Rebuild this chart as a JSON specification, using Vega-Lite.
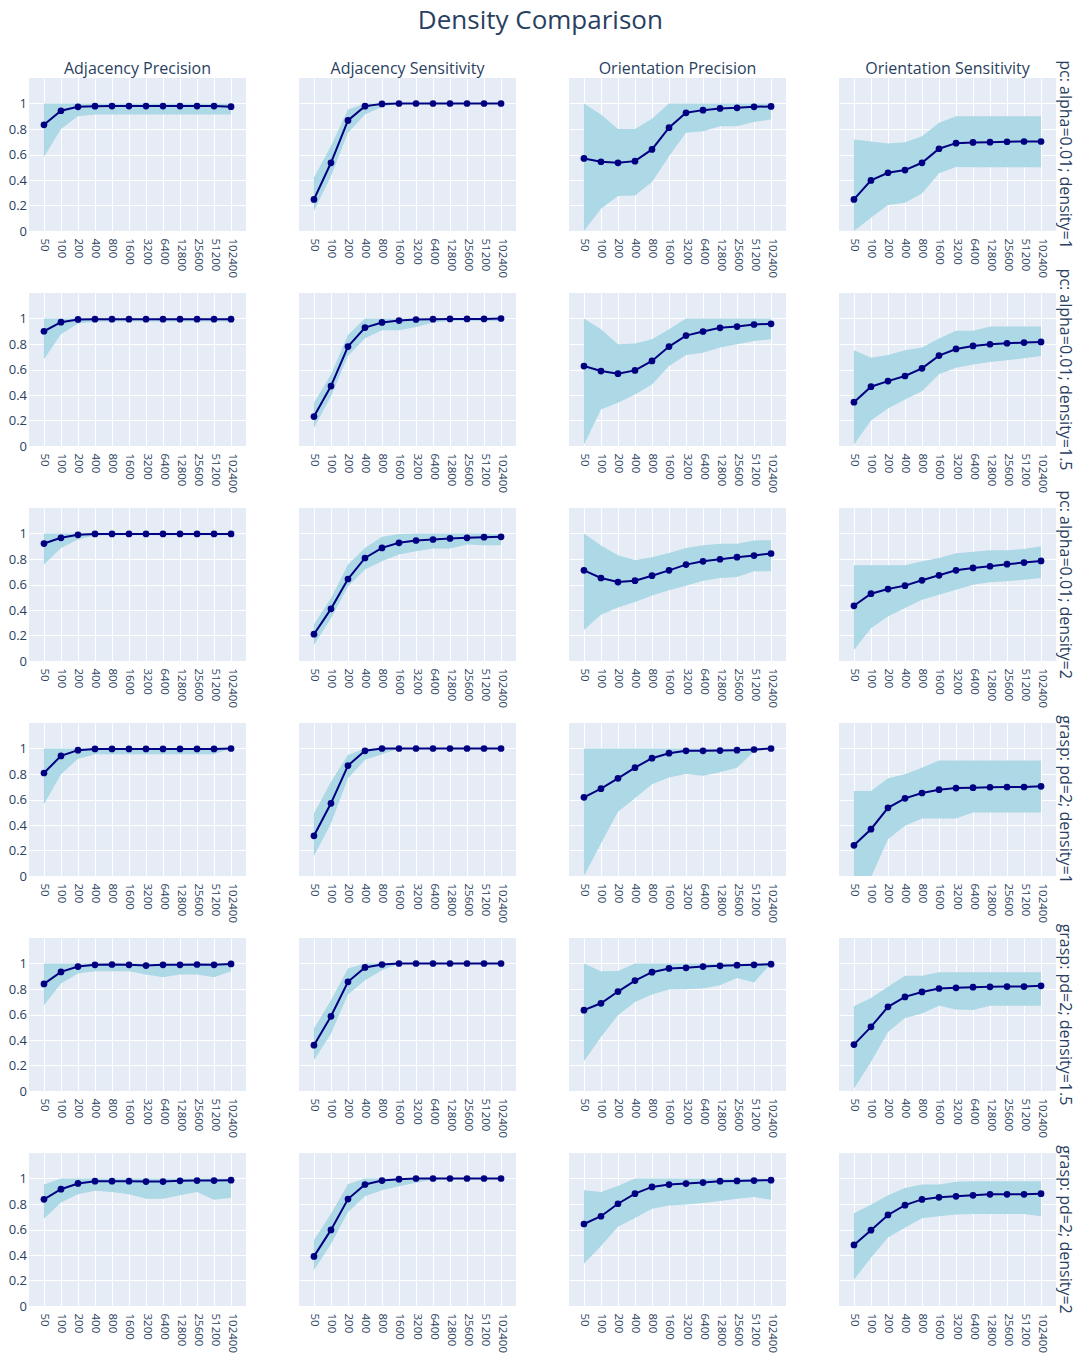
{
"$schema": "https://vega.github.io/schema/vega-lite/v6.json",
"title": {"text": "Density Comparison", "fontSize": 26, "font": "Open Sans", "fontWeight": "normal", "color": "#2a3f5f", "anchor": "middle", "offset": 26},
"background": "white",
"padding": {"left": 8, "top": 8, "right": 2, "bottom": 2},
"datasets": {
"d": [
{"row":"pc: alpha=0.01; density=1","metric":"Adjacency Precision","n":"50","mean":0.833,"lo":0.58,"hi":1},
{"row":"pc: alpha=0.01; density=1","metric":"Adjacency Precision","n":"100","mean":0.943,"lo":0.80,"hi":1},
{"row":"pc: alpha=0.01; density=1","metric":"Adjacency Precision","n":"200","mean":0.974,"lo":0.90,"hi":1},
{"row":"pc: alpha=0.01; density=1","metric":"Adjacency Precision","n":"400","mean":0.979,"lo":0.914,"hi":1},
{"row":"pc: alpha=0.01; density=1","metric":"Adjacency Precision","n":"800","mean":0.98,"lo":0.914,"hi":1},
{"row":"pc: alpha=0.01; density=1","metric":"Adjacency Precision","n":"1600","mean":0.98,"lo":0.914,"hi":1},
{"row":"pc: alpha=0.01; density=1","metric":"Adjacency Precision","n":"3200","mean":0.98,"lo":0.914,"hi":1},
{"row":"pc: alpha=0.01; density=1","metric":"Adjacency Precision","n":"6400","mean":0.98,"lo":0.914,"hi":1},
{"row":"pc: alpha=0.01; density=1","metric":"Adjacency Precision","n":"12800","mean":0.98,"lo":0.914,"hi":1},
{"row":"pc: alpha=0.01; density=1","metric":"Adjacency Precision","n":"25600","mean":0.98,"lo":0.914,"hi":1},
{"row":"pc: alpha=0.01; density=1","metric":"Adjacency Precision","n":"51200","mean":0.98,"lo":0.914,"hi":1},
{"row":"pc: alpha=0.01; density=1","metric":"Adjacency Precision","n":"102400","mean":0.975,"lo":0.914,"hi":1},
{"row":"pc: alpha=0.01; density=1","metric":"Adjacency Sensitivity","n":"50","mean":0.248,"lo":0.157,"hi":0.42},
{"row":"pc: alpha=0.01; density=1","metric":"Adjacency Sensitivity","n":"100","mean":0.535,"lo":0.43,"hi":0.666},
{"row":"pc: alpha=0.01; density=1","metric":"Adjacency Sensitivity","n":"200","mean":0.867,"lo":0.77,"hi":0.953},
{"row":"pc: alpha=0.01; density=1","metric":"Adjacency Sensitivity","n":"400","mean":0.979,"lo":0.914,"hi":1},
{"row":"pc: alpha=0.01; density=1","metric":"Adjacency Sensitivity","n":"800","mean":0.997,"lo":0.974,"hi":1},
{"row":"pc: alpha=0.01; density=1","metric":"Adjacency Sensitivity","n":"1600","mean":1,"lo":1,"hi":1},
{"row":"pc: alpha=0.01; density=1","metric":"Adjacency Sensitivity","n":"3200","mean":1,"lo":1,"hi":1},
{"row":"pc: alpha=0.01; density=1","metric":"Adjacency Sensitivity","n":"6400","mean":1,"lo":1,"hi":1},
{"row":"pc: alpha=0.01; density=1","metric":"Adjacency Sensitivity","n":"12800","mean":1,"lo":1,"hi":1},
{"row":"pc: alpha=0.01; density=1","metric":"Adjacency Sensitivity","n":"25600","mean":1,"lo":1,"hi":1},
{"row":"pc: alpha=0.01; density=1","metric":"Adjacency Sensitivity","n":"51200","mean":1,"lo":1,"hi":1},
{"row":"pc: alpha=0.01; density=1","metric":"Adjacency Sensitivity","n":"102400","mean":1,"lo":1,"hi":1},
{"row":"pc: alpha=0.01; density=1","metric":"Orientation Precision","n":"50","mean":0.569,"lo":0,"hi":1},
{"row":"pc: alpha=0.01; density=1","metric":"Orientation Precision","n":"100","mean":0.543,"lo":0.175,"hi":0.914},
{"row":"pc: alpha=0.01; density=1","metric":"Orientation Precision","n":"200","mean":0.535,"lo":0.274,"hi":0.80},
{"row":"pc: alpha=0.01; density=1","metric":"Orientation Precision","n":"400","mean":0.548,"lo":0.279,"hi":0.80},
{"row":"pc: alpha=0.01; density=1","metric":"Orientation Precision","n":"800","mean":0.64,"lo":0.384,"hi":0.88},
{"row":"pc: alpha=0.01; density=1","metric":"Orientation Precision","n":"1600","mean":0.81,"lo":0.587,"hi":1},
{"row":"pc: alpha=0.01; density=1","metric":"Orientation Precision","n":"3200","mean":0.927,"lo":0.77,"hi":1},
{"row":"pc: alpha=0.01; density=1","metric":"Orientation Precision","n":"6400","mean":0.948,"lo":0.783,"hi":1},
{"row":"pc: alpha=0.01; density=1","metric":"Orientation Precision","n":"12800","mean":0.961,"lo":0.822,"hi":1},
{"row":"pc: alpha=0.01; density=1","metric":"Orientation Precision","n":"25600","mean":0.966,"lo":0.822,"hi":1},
{"row":"pc: alpha=0.01; density=1","metric":"Orientation Precision","n":"51200","mean":0.974,"lo":0.854,"hi":1},
{"row":"pc: alpha=0.01; density=1","metric":"Orientation Precision","n":"102400","mean":0.977,"lo":0.875,"hi":1},
{"row":"pc: alpha=0.01; density=1","metric":"Orientation Sensitivity","n":"50","mean":0.248,"lo":0,"hi":0.718},
{"row":"pc: alpha=0.01; density=1","metric":"Orientation Sensitivity","n":"100","mean":0.397,"lo":0.104,"hi":0.702},
{"row":"pc: alpha=0.01; density=1","metric":"Orientation Sensitivity","n":"200","mean":0.457,"lo":0.204,"hi":0.687},
{"row":"pc: alpha=0.01; density=1","metric":"Orientation Sensitivity","n":"400","mean":0.478,"lo":0.222,"hi":0.697},
{"row":"pc: alpha=0.01; density=1","metric":"Orientation Sensitivity","n":"800","mean":0.535,"lo":0.295,"hi":0.744},
{"row":"pc: alpha=0.01; density=1","metric":"Orientation Sensitivity","n":"1600","mean":0.645,"lo":0.452,"hi":0.849},
{"row":"pc: alpha=0.01; density=1","metric":"Orientation Sensitivity","n":"3200","mean":0.689,"lo":0.501,"hi":0.90},
{"row":"pc: alpha=0.01; density=1","metric":"Orientation Sensitivity","n":"6400","mean":0.695,"lo":0.50,"hi":0.90},
{"row":"pc: alpha=0.01; density=1","metric":"Orientation Sensitivity","n":"12800","mean":0.697,"lo":0.50,"hi":0.90},
{"row":"pc: alpha=0.01; density=1","metric":"Orientation Sensitivity","n":"25600","mean":0.70,"lo":0.50,"hi":0.90},
{"row":"pc: alpha=0.01; density=1","metric":"Orientation Sensitivity","n":"51200","mean":0.702,"lo":0.50,"hi":0.90},
{"row":"pc: alpha=0.01; density=1","metric":"Orientation Sensitivity","n":"102400","mean":0.702,"lo":0.50,"hi":0.90},

{"row":"pc: alpha=0.01; density=1.5","metric":"Adjacency Precision","n":"50","mean":0.90,"lo":0.68,"hi":1},
{"row":"pc: alpha=0.01; density=1.5","metric":"Adjacency Precision","n":"100","mean":0.971,"lo":0.877,"hi":1},
{"row":"pc: alpha=0.01; density=1.5","metric":"Adjacency Precision","n":"200","mean":0.993,"lo":0.96,"hi":1},
{"row":"pc: alpha=0.01; density=1.5","metric":"Adjacency Precision","n":"400","mean":0.995,"lo":0.974,"hi":1},
{"row":"pc: alpha=0.01; density=1.5","metric":"Adjacency Precision","n":"800","mean":0.995,"lo":0.976,"hi":1},
{"row":"pc: alpha=0.01; density=1.5","metric":"Adjacency Precision","n":"1600","mean":0.995,"lo":0.976,"hi":1},
{"row":"pc: alpha=0.01; density=1.5","metric":"Adjacency Precision","n":"3200","mean":0.995,"lo":0.976,"hi":1},
{"row":"pc: alpha=0.01; density=1.5","metric":"Adjacency Precision","n":"6400","mean":0.995,"lo":0.976,"hi":1},
{"row":"pc: alpha=0.01; density=1.5","metric":"Adjacency Precision","n":"12800","mean":0.995,"lo":0.976,"hi":1},
{"row":"pc: alpha=0.01; density=1.5","metric":"Adjacency Precision","n":"25600","mean":0.995,"lo":0.976,"hi":1},
{"row":"pc: alpha=0.01; density=1.5","metric":"Adjacency Precision","n":"51200","mean":0.995,"lo":0.976,"hi":1},
{"row":"pc: alpha=0.01; density=1.5","metric":"Adjacency Precision","n":"102400","mean":0.995,"lo":0.976,"hi":1},
{"row":"pc: alpha=0.01; density=1.5","metric":"Adjacency Sensitivity","n":"50","mean":0.231,"lo":0.142,"hi":0.339},
{"row":"pc: alpha=0.01; density=1.5","metric":"Adjacency Sensitivity","n":"100","mean":0.47,"lo":0.39,"hi":0.56},
{"row":"pc: alpha=0.01; density=1.5","metric":"Adjacency Sensitivity","n":"200","mean":0.78,"lo":0.706,"hi":0.87},
{"row":"pc: alpha=0.01; density=1.5","metric":"Adjacency Sensitivity","n":"400","mean":0.929,"lo":0.845,"hi":1},
{"row":"pc: alpha=0.01; density=1.5","metric":"Adjacency Sensitivity","n":"800","mean":0.969,"lo":0.908,"hi":1},
{"row":"pc: alpha=0.01; density=1.5","metric":"Adjacency Sensitivity","n":"1600","mean":0.984,"lo":0.908,"hi":1},
{"row":"pc: alpha=0.01; density=1.5","metric":"Adjacency Sensitivity","n":"3200","mean":0.992,"lo":0.934,"hi":1},
{"row":"pc: alpha=0.01; density=1.5","metric":"Adjacency Sensitivity","n":"6400","mean":0.995,"lo":0.969,"hi":1},
{"row":"pc: alpha=0.01; density=1.5","metric":"Adjacency Sensitivity","n":"12800","mean":0.997,"lo":0.98,"hi":1},
{"row":"pc: alpha=0.01; density=1.5","metric":"Adjacency Sensitivity","n":"25600","mean":0.997,"lo":0.98,"hi":1},
{"row":"pc: alpha=0.01; density=1.5","metric":"Adjacency Sensitivity","n":"51200","mean":0.997,"lo":0.98,"hi":1},
{"row":"pc: alpha=0.01; density=1.5","metric":"Adjacency Sensitivity","n":"102400","mean":1,"lo":0.98,"hi":1},
{"row":"pc: alpha=0.01; density=1.5","metric":"Orientation Precision","n":"50","mean":0.627,"lo":0.01,"hi":1},
{"row":"pc: alpha=0.01; density=1.5","metric":"Orientation Precision","n":"100","mean":0.588,"lo":0.286,"hi":0.916},
{"row":"pc: alpha=0.01; density=1.5","metric":"Orientation Precision","n":"200","mean":0.567,"lo":0.339,"hi":0.798},
{"row":"pc: alpha=0.01; density=1.5","metric":"Orientation Precision","n":"400","mean":0.593,"lo":0.404,"hi":0.803},
{"row":"pc: alpha=0.01; density=1.5","metric":"Orientation Precision","n":"800","mean":0.667,"lo":0.483,"hi":0.837},
{"row":"pc: alpha=0.01; density=1.5","metric":"Orientation Precision","n":"1600","mean":0.78,"lo":0.627,"hi":0.916},
{"row":"pc: alpha=0.01; density=1.5","metric":"Orientation Precision","n":"3200","mean":0.866,"lo":0.714,"hi":1},
{"row":"pc: alpha=0.01; density=1.5","metric":"Orientation Precision","n":"6400","mean":0.898,"lo":0.732,"hi":1},
{"row":"pc: alpha=0.01; density=1.5","metric":"Orientation Precision","n":"12800","mean":0.927,"lo":0.772,"hi":1},
{"row":"pc: alpha=0.01; density=1.5","metric":"Orientation Precision","n":"25600","mean":0.937,"lo":0.798,"hi":1},
{"row":"pc: alpha=0.01; density=1.5","metric":"Orientation Precision","n":"51200","mean":0.953,"lo":0.824,"hi":1},
{"row":"pc: alpha=0.01; density=1.5","metric":"Orientation Precision","n":"102400","mean":0.958,"lo":0.837,"hi":1},
{"row":"pc: alpha=0.01; density=1.5","metric":"Orientation Sensitivity","n":"50","mean":0.344,"lo":0.01,"hi":0.751},
{"row":"pc: alpha=0.01; density=1.5","metric":"Orientation Sensitivity","n":"100","mean":0.465,"lo":0.2,"hi":0.693},
{"row":"pc: alpha=0.01; density=1.5","metric":"Orientation Sensitivity","n":"200","mean":0.509,"lo":0.294,"hi":0.714},
{"row":"pc: alpha=0.01; density=1.5","metric":"Orientation Sensitivity","n":"400","mean":0.549,"lo":0.365,"hi":0.751},
{"row":"pc: alpha=0.01; density=1.5","metric":"Orientation Sensitivity","n":"800","mean":0.609,"lo":0.43,"hi":0.772},
{"row":"pc: alpha=0.01; density=1.5","metric":"Orientation Sensitivity","n":"1600","mean":0.709,"lo":0.562,"hi":0.843},
{"row":"pc: alpha=0.01; density=1.5","metric":"Orientation Sensitivity","n":"3200","mean":0.761,"lo":0.614,"hi":0.903},
{"row":"pc: alpha=0.01; density=1.5","metric":"Orientation Sensitivity","n":"6400","mean":0.785,"lo":0.64,"hi":0.903},
{"row":"pc: alpha=0.01; density=1.5","metric":"Orientation Sensitivity","n":"12800","mean":0.798,"lo":0.659,"hi":0.937},
{"row":"pc: alpha=0.01; density=1.5","metric":"Orientation Sensitivity","n":"25600","mean":0.806,"lo":0.672,"hi":0.937},
{"row":"pc: alpha=0.01; density=1.5","metric":"Orientation Sensitivity","n":"51200","mean":0.811,"lo":0.688,"hi":0.937},
{"row":"pc: alpha=0.01; density=1.5","metric":"Orientation Sensitivity","n":"102400","mean":0.816,"lo":0.706,"hi":0.937},

{"row":"pc: alpha=0.01; density=2","metric":"Adjacency Precision","n":"50","mean":0.921,"lo":0.756,"hi":1},
{"row":"pc: alpha=0.01; density=2","metric":"Adjacency Precision","n":"100","mean":0.966,"lo":0.887,"hi":1},
{"row":"pc: alpha=0.01; density=2","metric":"Adjacency Precision","n":"200","mean":0.99,"lo":0.953,"hi":1},
{"row":"pc: alpha=0.01; density=2","metric":"Adjacency Precision","n":"400","mean":0.997,"lo":0.984,"hi":1},
{"row":"pc: alpha=0.01; density=2","metric":"Adjacency Precision","n":"800","mean":0.997,"lo":0.987,"hi":1},
{"row":"pc: alpha=0.01; density=2","metric":"Adjacency Precision","n":"1600","mean":0.997,"lo":0.987,"hi":1},
{"row":"pc: alpha=0.01; density=2","metric":"Adjacency Precision","n":"3200","mean":0.997,"lo":0.987,"hi":1},
{"row":"pc: alpha=0.01; density=2","metric":"Adjacency Precision","n":"6400","mean":0.997,"lo":0.987,"hi":1},
{"row":"pc: alpha=0.01; density=2","metric":"Adjacency Precision","n":"12800","mean":0.997,"lo":0.987,"hi":1},
{"row":"pc: alpha=0.01; density=2","metric":"Adjacency Precision","n":"25600","mean":0.997,"lo":0.987,"hi":1},
{"row":"pc: alpha=0.01; density=2","metric":"Adjacency Precision","n":"51200","mean":0.997,"lo":0.987,"hi":1},
{"row":"pc: alpha=0.01; density=2","metric":"Adjacency Precision","n":"102400","mean":0.997,"lo":0.987,"hi":1},
{"row":"pc: alpha=0.01; density=2","metric":"Adjacency Sensitivity","n":"50","mean":0.21,"lo":0.126,"hi":0.289},
{"row":"pc: alpha=0.01; density=2","metric":"Adjacency Sensitivity","n":"100","mean":0.409,"lo":0.336,"hi":0.493},
{"row":"pc: alpha=0.01; density=2","metric":"Adjacency Sensitivity","n":"200","mean":0.643,"lo":0.585,"hi":0.756},
{"row":"pc: alpha=0.01; density=2","metric":"Adjacency Sensitivity","n":"400","mean":0.808,"lo":0.717,"hi":0.887},
{"row":"pc: alpha=0.01; density=2","metric":"Adjacency Sensitivity","n":"800","mean":0.887,"lo":0.782,"hi":0.974},
{"row":"pc: alpha=0.01; density=2","metric":"Adjacency Sensitivity","n":"1600","mean":0.927,"lo":0.835,"hi":0.997},
{"row":"pc: alpha=0.01; density=2","metric":"Adjacency Sensitivity","n":"3200","mean":0.945,"lo":0.861,"hi":1},
{"row":"pc: alpha=0.01; density=2","metric":"Adjacency Sensitivity","n":"6400","mean":0.953,"lo":0.882,"hi":1},
{"row":"pc: alpha=0.01; density=2","metric":"Adjacency Sensitivity","n":"12800","mean":0.961,"lo":0.882,"hi":1},
{"row":"pc: alpha=0.01; density=2","metric":"Adjacency Sensitivity","n":"25600","mean":0.966,"lo":0.913,"hi":1},
{"row":"pc: alpha=0.01; density=2","metric":"Adjacency Sensitivity","n":"51200","mean":0.971,"lo":0.908,"hi":1},
{"row":"pc: alpha=0.01; density=2","metric":"Adjacency Sensitivity","n":"102400","mean":0.974,"lo":0.908,"hi":0.995},
{"row":"pc: alpha=0.01; density=2","metric":"Orientation Precision","n":"50","mean":0.711,"lo":0.244,"hi":1},
{"row":"pc: alpha=0.01; density=2","metric":"Orientation Precision","n":"100","mean":0.651,"lo":0.362,"hi":0.906},
{"row":"pc: alpha=0.01; density=2","metric":"Orientation Precision","n":"200","mean":0.619,"lo":0.42,"hi":0.829},
{"row":"pc: alpha=0.01; density=2","metric":"Orientation Precision","n":"400","mean":0.63,"lo":0.462,"hi":0.793},
{"row":"pc: alpha=0.01; density=2","metric":"Orientation Precision","n":"800","mean":0.669,"lo":0.514,"hi":0.814},
{"row":"pc: alpha=0.01; density=2","metric":"Orientation Precision","n":"1600","mean":0.711,"lo":0.554,"hi":0.848},
{"row":"pc: alpha=0.01; density=2","metric":"Orientation Precision","n":"3200","mean":0.756,"lo":0.591,"hi":0.887},
{"row":"pc: alpha=0.01; density=2","metric":"Orientation Precision","n":"6400","mean":0.782,"lo":0.63,"hi":0.908},
{"row":"pc: alpha=0.01; density=2","metric":"Orientation Precision","n":"12800","mean":0.798,"lo":0.651,"hi":0.919},
{"row":"pc: alpha=0.01; density=2","metric":"Orientation Precision","n":"25600","mean":0.814,"lo":0.659,"hi":0.919},
{"row":"pc: alpha=0.01; density=2","metric":"Orientation Precision","n":"51200","mean":0.827,"lo":0.703,"hi":0.945},
{"row":"pc: alpha=0.01; density=2","metric":"Orientation Precision","n":"102400","mean":0.843,"lo":0.703,"hi":0.948},
{"row":"pc: alpha=0.01; density=2","metric":"Orientation Sensitivity","n":"50","mean":0.433,"lo":0.087,"hi":0.751},
{"row":"pc: alpha=0.01; density=2","metric":"Orientation Sensitivity","n":"100","mean":0.528,"lo":0.257,"hi":0.751},
{"row":"pc: alpha=0.01; density=2","metric":"Orientation Sensitivity","n":"200","mean":0.564,"lo":0.349,"hi":0.751},
{"row":"pc: alpha=0.01; density=2","metric":"Orientation Sensitivity","n":"400","mean":0.591,"lo":0.415,"hi":0.751},
{"row":"pc: alpha=0.01; density=2","metric":"Orientation Sensitivity","n":"800","mean":0.633,"lo":0.48,"hi":0.782},
{"row":"pc: alpha=0.01; density=2","metric":"Orientation Sensitivity","n":"1600","mean":0.672,"lo":0.52,"hi":0.808},
{"row":"pc: alpha=0.01; density=2","metric":"Orientation Sensitivity","n":"3200","mean":0.711,"lo":0.559,"hi":0.845},
{"row":"pc: alpha=0.01; density=2","metric":"Orientation Sensitivity","n":"6400","mean":0.73,"lo":0.598,"hi":0.856},
{"row":"pc: alpha=0.01; density=2","metric":"Orientation Sensitivity","n":"12800","mean":0.743,"lo":0.617,"hi":0.869},
{"row":"pc: alpha=0.01; density=2","metric":"Orientation Sensitivity","n":"25600","mean":0.759,"lo":0.625,"hi":0.869},
{"row":"pc: alpha=0.01; density=2","metric":"Orientation Sensitivity","n":"51200","mean":0.772,"lo":0.638,"hi":0.879},
{"row":"pc: alpha=0.01; density=2","metric":"Orientation Sensitivity","n":"102400","mean":0.785,"lo":0.651,"hi":0.9},

{"row":"grasp: pd=2; density=1","metric":"Adjacency Precision","n":"50","mean":0.808,"lo":0.562,"hi":1},
{"row":"grasp: pd=2; density=1","metric":"Adjacency Precision","n":"100","mean":0.942,"lo":0.798,"hi":1},
{"row":"grasp: pd=2; density=1","metric":"Adjacency Precision","n":"200","mean":0.987,"lo":0.919,"hi":1},
{"row":"grasp: pd=2; density=1","metric":"Adjacency Precision","n":"400","mean":0.997,"lo":0.955,"hi":1},
{"row":"grasp: pd=2; density=1","metric":"Adjacency Precision","n":"800","mean":0.997,"lo":0.955,"hi":1},
{"row":"grasp: pd=2; density=1","metric":"Adjacency Precision","n":"1600","mean":0.997,"lo":0.955,"hi":1},
{"row":"grasp: pd=2; density=1","metric":"Adjacency Precision","n":"3200","mean":0.997,"lo":0.955,"hi":1},
{"row":"grasp: pd=2; density=1","metric":"Adjacency Precision","n":"6400","mean":0.997,"lo":0.955,"hi":1},
{"row":"grasp: pd=2; density=1","metric":"Adjacency Precision","n":"12800","mean":0.997,"lo":0.955,"hi":1},
{"row":"grasp: pd=2; density=1","metric":"Adjacency Precision","n":"25600","mean":0.997,"lo":0.955,"hi":1},
{"row":"grasp: pd=2; density=1","metric":"Adjacency Precision","n":"51200","mean":0.997,"lo":0.955,"hi":1},
{"row":"grasp: pd=2; density=1","metric":"Adjacency Precision","n":"102400","mean":1,"lo":1,"hi":1},
{"row":"grasp: pd=2; density=1","metric":"Adjacency Sensitivity","n":"50","mean":0.315,"lo":0.157,"hi":0.491},
{"row":"grasp: pd=2; density=1","metric":"Adjacency Sensitivity","n":"100","mean":0.57,"lo":0.412,"hi":0.74},
{"row":"grasp: pd=2; density=1","metric":"Adjacency Sensitivity","n":"200","mean":0.866,"lo":0.766,"hi":0.95},
{"row":"grasp: pd=2; density=1","metric":"Adjacency Sensitivity","n":"400","mean":0.982,"lo":0.911,"hi":1},
{"row":"grasp: pd=2; density=1","metric":"Adjacency Sensitivity","n":"800","mean":1,"lo":0.955,"hi":1},
{"row":"grasp: pd=2; density=1","metric":"Adjacency Sensitivity","n":"1600","mean":1,"lo":1,"hi":1},
{"row":"grasp: pd=2; density=1","metric":"Adjacency Sensitivity","n":"3200","mean":1,"lo":1,"hi":1},
{"row":"grasp: pd=2; density=1","metric":"Adjacency Sensitivity","n":"6400","mean":1,"lo":1,"hi":1},
{"row":"grasp: pd=2; density=1","metric":"Adjacency Sensitivity","n":"12800","mean":1,"lo":1,"hi":1},
{"row":"grasp: pd=2; density=1","metric":"Adjacency Sensitivity","n":"25600","mean":1,"lo":1,"hi":1},
{"row":"grasp: pd=2; density=1","metric":"Adjacency Sensitivity","n":"51200","mean":1,"lo":1,"hi":1},
{"row":"grasp: pd=2; density=1","metric":"Adjacency Sensitivity","n":"102400","mean":1,"lo":1,"hi":1},
{"row":"grasp: pd=2; density=1","metric":"Orientation Precision","n":"50","mean":0.617,"lo":0,"hi":1},
{"row":"grasp: pd=2; density=1","metric":"Orientation Precision","n":"100","mean":0.685,"lo":0.255,"hi":1},
{"row":"grasp: pd=2; density=1","metric":"Orientation Precision","n":"200","mean":0.766,"lo":0.504,"hi":1},
{"row":"grasp: pd=2; density=1","metric":"Orientation Precision","n":"400","mean":0.85,"lo":0.609,"hi":1},
{"row":"grasp: pd=2; density=1","metric":"Orientation Precision","n":"800","mean":0.924,"lo":0.719,"hi":1},
{"row":"grasp: pd=2; density=1","metric":"Orientation Precision","n":"1600","mean":0.963,"lo":0.772,"hi":1},
{"row":"grasp: pd=2; density=1","metric":"Orientation Precision","n":"3200","mean":0.982,"lo":0.8,"hi":1},
{"row":"grasp: pd=2; density=1","metric":"Orientation Precision","n":"6400","mean":0.982,"lo":0.787,"hi":1},
{"row":"grasp: pd=2; density=1","metric":"Orientation Precision","n":"12800","mean":0.984,"lo":0.814,"hi":1},
{"row":"grasp: pd=2; density=1","metric":"Orientation Precision","n":"25600","mean":0.987,"lo":0.85,"hi":1},
{"row":"grasp: pd=2; density=1","metric":"Orientation Precision","n":"51200","mean":0.992,"lo":0.976,"hi":1},
{"row":"grasp: pd=2; density=1","metric":"Orientation Precision","n":"102400","mean":1,"lo":1,"hi":1},
{"row":"grasp: pd=2; density=1","metric":"Orientation Sensitivity","n":"50","mean":0.241,"lo":-0.08,"hi":0.667},
{"row":"grasp: pd=2; density=1","metric":"Orientation Sensitivity","n":"100","mean":0.367,"lo":-0.01,"hi":0.667},
{"row":"grasp: pd=2; density=1","metric":"Orientation Sensitivity","n":"200","mean":0.535,"lo":0.289,"hi":0.766},
{"row":"grasp: pd=2; density=1","metric":"Orientation Sensitivity","n":"400","mean":0.609,"lo":0.394,"hi":0.798},
{"row":"grasp: pd=2; density=1","metric":"Orientation Sensitivity","n":"800","mean":0.651,"lo":0.451,"hi":0.85},
{"row":"grasp: pd=2; density=1","metric":"Orientation Sensitivity","n":"1600","mean":0.677,"lo":0.451,"hi":0.906},
{"row":"grasp: pd=2; density=1","metric":"Orientation Sensitivity","n":"3200","mean":0.69,"lo":0.451,"hi":0.906},
{"row":"grasp: pd=2; density=1","metric":"Orientation Sensitivity","n":"6400","mean":0.693,"lo":0.499,"hi":0.906},
{"row":"grasp: pd=2; density=1","metric":"Orientation Sensitivity","n":"12800","mean":0.696,"lo":0.499,"hi":0.906},
{"row":"grasp: pd=2; density=1","metric":"Orientation Sensitivity","n":"25600","mean":0.698,"lo":0.499,"hi":0.906},
{"row":"grasp: pd=2; density=1","metric":"Orientation Sensitivity","n":"51200","mean":0.698,"lo":0.499,"hi":0.906},
{"row":"grasp: pd=2; density=1","metric":"Orientation Sensitivity","n":"102400","mean":0.703,"lo":0.499,"hi":0.906},

{"row":"grasp: pd=2; density=1.5","metric":"Adjacency Precision","n":"50","mean":0.84,"lo":0.673,"hi":1},
{"row":"grasp: pd=2; density=1.5","metric":"Adjacency Precision","n":"100","mean":0.934,"lo":0.843,"hi":1},
{"row":"grasp: pd=2; density=1.5","metric":"Adjacency Precision","n":"200","mean":0.976,"lo":0.921,"hi":1},
{"row":"grasp: pd=2; density=1.5","metric":"Adjacency Precision","n":"400","mean":0.99,"lo":0.94,"hi":1},
{"row":"grasp: pd=2; density=1.5","metric":"Adjacency Precision","n":"800","mean":0.992,"lo":0.94,"hi":1},
{"row":"grasp: pd=2; density=1.5","metric":"Adjacency Precision","n":"1600","mean":0.99,"lo":0.94,"hi":1},
{"row":"grasp: pd=2; density=1.5","metric":"Adjacency Precision","n":"3200","mean":0.984,"lo":0.914,"hi":1},
{"row":"grasp: pd=2; density=1.5","metric":"Adjacency Precision","n":"6400","mean":0.99,"lo":0.893,"hi":1},
{"row":"grasp: pd=2; density=1.5","metric":"Adjacency Precision","n":"12800","mean":0.99,"lo":0.914,"hi":1},
{"row":"grasp: pd=2; density=1.5","metric":"Adjacency Precision","n":"25600","mean":0.992,"lo":0.914,"hi":1},
{"row":"grasp: pd=2; density=1.5","metric":"Adjacency Precision","n":"51200","mean":0.99,"lo":0.893,"hi":1},
{"row":"grasp: pd=2; density=1.5","metric":"Adjacency Precision","n":"102400","mean":0.997,"lo":0.94,"hi":1},
{"row":"grasp: pd=2; density=1.5","metric":"Adjacency Sensitivity","n":"50","mean":0.359,"lo":0.241,"hi":0.49},
{"row":"grasp: pd=2; density=1.5","metric":"Adjacency Sensitivity","n":"100","mean":0.586,"lo":0.45,"hi":0.712},
{"row":"grasp: pd=2; density=1.5","metric":"Adjacency Sensitivity","n":"200","mean":0.856,"lo":0.757,"hi":0.961},
{"row":"grasp: pd=2; density=1.5","metric":"Adjacency Sensitivity","n":"400","mean":0.969,"lo":0.869,"hi":1},
{"row":"grasp: pd=2; density=1.5","metric":"Adjacency Sensitivity","n":"800","mean":0.992,"lo":0.948,"hi":1},
{"row":"grasp: pd=2; density=1.5","metric":"Adjacency Sensitivity","n":"1600","mean":1,"lo":1,"hi":1},
{"row":"grasp: pd=2; density=1.5","metric":"Adjacency Sensitivity","n":"3200","mean":1,"lo":1,"hi":1},
{"row":"grasp: pd=2; density=1.5","metric":"Adjacency Sensitivity","n":"6400","mean":1,"lo":1,"hi":1},
{"row":"grasp: pd=2; density=1.5","metric":"Adjacency Sensitivity","n":"12800","mean":1,"lo":1,"hi":1},
{"row":"grasp: pd=2; density=1.5","metric":"Adjacency Sensitivity","n":"25600","mean":1,"lo":1,"hi":1},
{"row":"grasp: pd=2; density=1.5","metric":"Adjacency Sensitivity","n":"51200","mean":1,"lo":1,"hi":1},
{"row":"grasp: pd=2; density=1.5","metric":"Adjacency Sensitivity","n":"102400","mean":1,"lo":1,"hi":1},
{"row":"grasp: pd=2; density=1.5","metric":"Orientation Precision","n":"50","mean":0.634,"lo":0.233,"hi":1},
{"row":"grasp: pd=2; density=1.5","metric":"Orientation Precision","n":"100","mean":0.688,"lo":0.424,"hi":0.94},
{"row":"grasp: pd=2; density=1.5","metric":"Orientation Precision","n":"200","mean":0.78,"lo":0.594,"hi":0.942},
{"row":"grasp: pd=2; density=1.5","metric":"Orientation Precision","n":"400","mean":0.866,"lo":0.699,"hi":1},
{"row":"grasp: pd=2; density=1.5","metric":"Orientation Precision","n":"800","mean":0.932,"lo":0.757,"hi":1},
{"row":"grasp: pd=2; density=1.5","metric":"Orientation Precision","n":"1600","mean":0.961,"lo":0.796,"hi":1},
{"row":"grasp: pd=2; density=1.5","metric":"Orientation Precision","n":"3200","mean":0.966,"lo":0.798,"hi":1},
{"row":"grasp: pd=2; density=1.5","metric":"Orientation Precision","n":"6400","mean":0.976,"lo":0.804,"hi":1},
{"row":"grasp: pd=2; density=1.5","metric":"Orientation Precision","n":"12800","mean":0.982,"lo":0.83,"hi":1},
{"row":"grasp: pd=2; density=1.5","metric":"Orientation Precision","n":"25600","mean":0.987,"lo":0.887,"hi":1},
{"row":"grasp: pd=2; density=1.5","metric":"Orientation Precision","n":"51200","mean":0.99,"lo":0.851,"hi":1},
{"row":"grasp: pd=2; density=1.5","metric":"Orientation Precision","n":"102400","mean":0.995,"lo":1,"hi":1},
{"row":"grasp: pd=2; density=1.5","metric":"Orientation Sensitivity","n":"50","mean":0.364,"lo":0.018,"hi":0.665},
{"row":"grasp: pd=2; density=1.5","metric":"Orientation Sensitivity","n":"100","mean":0.503,"lo":0.228,"hi":0.73},
{"row":"grasp: pd=2; density=1.5","metric":"Orientation Sensitivity","n":"200","mean":0.66,"lo":0.463,"hi":0.817},
{"row":"grasp: pd=2; density=1.5","metric":"Orientation Sensitivity","n":"400","mean":0.738,"lo":0.573,"hi":0.903},
{"row":"grasp: pd=2; density=1.5","metric":"Orientation Sensitivity","n":"800","mean":0.777,"lo":0.607,"hi":0.903},
{"row":"grasp: pd=2; density=1.5","metric":"Orientation Sensitivity","n":"1600","mean":0.804,"lo":0.668,"hi":0.932},
{"row":"grasp: pd=2; density=1.5","metric":"Orientation Sensitivity","n":"3200","mean":0.809,"lo":0.639,"hi":0.932},
{"row":"grasp: pd=2; density=1.5","metric":"Orientation Sensitivity","n":"6400","mean":0.814,"lo":0.636,"hi":0.932},
{"row":"grasp: pd=2; density=1.5","metric":"Orientation Sensitivity","n":"12800","mean":0.817,"lo":0.668,"hi":0.932},
{"row":"grasp: pd=2; density=1.5","metric":"Orientation Sensitivity","n":"25600","mean":0.819,"lo":0.668,"hi":0.932},
{"row":"grasp: pd=2; density=1.5","metric":"Orientation Sensitivity","n":"51200","mean":0.819,"lo":0.668,"hi":0.932},
{"row":"grasp: pd=2; density=1.5","metric":"Orientation Sensitivity","n":"102400","mean":0.825,"lo":0.668,"hi":0.932},

{"row":"grasp: pd=2; density=2","metric":"Adjacency Precision","n":"50","mean":0.837,"lo":0.684,"hi":0.953},
{"row":"grasp: pd=2; density=2","metric":"Adjacency Precision","n":"100","mean":0.916,"lo":0.811,"hi":1},
{"row":"grasp: pd=2; density=2","metric":"Adjacency Precision","n":"200","mean":0.961,"lo":0.876,"hi":1},
{"row":"grasp: pd=2; density=2","metric":"Adjacency Precision","n":"400","mean":0.979,"lo":0.903,"hi":1},
{"row":"grasp: pd=2; density=2","metric":"Adjacency Precision","n":"800","mean":0.979,"lo":0.895,"hi":1},
{"row":"grasp: pd=2; density=2","metric":"Adjacency Precision","n":"1600","mean":0.979,"lo":0.876,"hi":1},
{"row":"grasp: pd=2; density=2","metric":"Adjacency Precision","n":"3200","mean":0.976,"lo":0.842,"hi":1},
{"row":"grasp: pd=2; density=2","metric":"Adjacency Precision","n":"6400","mean":0.976,"lo":0.842,"hi":1},
{"row":"grasp: pd=2; density=2","metric":"Adjacency Precision","n":"12800","mean":0.982,"lo":0.868,"hi":1},
{"row":"grasp: pd=2; density=2","metric":"Adjacency Precision","n":"25600","mean":0.984,"lo":0.895,"hi":1},
{"row":"grasp: pd=2; density=2","metric":"Adjacency Precision","n":"51200","mean":0.984,"lo":0.834,"hi":1},
{"row":"grasp: pd=2; density=2","metric":"Adjacency Precision","n":"102400","mean":0.987,"lo":0.85,"hi":1},
{"row":"grasp: pd=2; density=2","metric":"Adjacency Sensitivity","n":"50","mean":0.389,"lo":0.282,"hi":0.518},
{"row":"grasp: pd=2; density=2","metric":"Adjacency Sensitivity","n":"100","mean":0.597,"lo":0.487,"hi":0.724},
{"row":"grasp: pd=2; density=2","metric":"Adjacency Sensitivity","n":"200","mean":0.839,"lo":0.737,"hi":0.955},
{"row":"grasp: pd=2; density=2","metric":"Adjacency Sensitivity","n":"400","mean":0.953,"lo":0.861,"hi":1},
{"row":"grasp: pd=2; density=2","metric":"Adjacency Sensitivity","n":"800","mean":0.984,"lo":0.908,"hi":1},
{"row":"grasp: pd=2; density=2","metric":"Adjacency Sensitivity","n":"1600","mean":0.995,"lo":0.939,"hi":1},
{"row":"grasp: pd=2; density=2","metric":"Adjacency Sensitivity","n":"3200","mean":1,"lo":0.966,"hi":1},
{"row":"grasp: pd=2; density=2","metric":"Adjacency Sensitivity","n":"6400","mean":1,"lo":0.992,"hi":1},
{"row":"grasp: pd=2; density=2","metric":"Adjacency Sensitivity","n":"12800","mean":1,"lo":1,"hi":1},
{"row":"grasp: pd=2; density=2","metric":"Adjacency Sensitivity","n":"25600","mean":1,"lo":1,"hi":1},
{"row":"grasp: pd=2; density=2","metric":"Adjacency Sensitivity","n":"51200","mean":1,"lo":1,"hi":1},
{"row":"grasp: pd=2; density=2","metric":"Adjacency Sensitivity","n":"102400","mean":1,"lo":1,"hi":1},
{"row":"grasp: pd=2; density=2","metric":"Orientation Precision","n":"50","mean":0.643,"lo":0.331,"hi":0.907},
{"row":"grasp: pd=2; density=2","metric":"Orientation Precision","n":"100","mean":0.704,"lo":0.471,"hi":0.894},
{"row":"grasp: pd=2; density=2","metric":"Orientation Precision","n":"200","mean":0.802,"lo":0.622,"hi":0.942},
{"row":"grasp: pd=2; density=2","metric":"Orientation Precision","n":"400","mean":0.881,"lo":0.69,"hi":1},
{"row":"grasp: pd=2; density=2","metric":"Orientation Precision","n":"800","mean":0.934,"lo":0.762,"hi":1},
{"row":"grasp: pd=2; density=2","metric":"Orientation Precision","n":"1600","mean":0.952,"lo":0.788,"hi":1},
{"row":"grasp: pd=2; density=2","metric":"Orientation Precision","n":"3200","mean":0.96,"lo":0.796,"hi":1},
{"row":"grasp: pd=2; density=2","metric":"Orientation Precision","n":"6400","mean":0.968,"lo":0.807,"hi":1},
{"row":"grasp: pd=2; density=2","metric":"Orientation Precision","n":"12800","mean":0.979,"lo":0.823,"hi":1},
{"row":"grasp: pd=2; density=2","metric":"Orientation Precision","n":"25600","mean":0.981,"lo":0.841,"hi":1},
{"row":"grasp: pd=2; density=2","metric":"Orientation Precision","n":"51200","mean":0.984,"lo":0.854,"hi":1},
{"row":"grasp: pd=2; density=2","metric":"Orientation Precision","n":"102400","mean":0.987,"lo":0.833,"hi":1},
{"row":"grasp: pd=2; density=2","metric":"Orientation Sensitivity","n":"50","mean":0.479,"lo":0.206,"hi":0.728},
{"row":"grasp: pd=2; density=2","metric":"Orientation Sensitivity","n":"100","mean":0.595,"lo":0.378,"hi":0.794},
{"row":"grasp: pd=2; density=2","metric":"Orientation Sensitivity","n":"200","mean":0.714,"lo":0.537,"hi":0.868},
{"row":"grasp: pd=2; density=2","metric":"Orientation Sensitivity","n":"400","mean":0.791,"lo":0.614,"hi":0.926},
{"row":"grasp: pd=2; density=2","metric":"Orientation Sensitivity","n":"800","mean":0.836,"lo":0.688,"hi":0.952},
{"row":"grasp: pd=2; density=2","metric":"Orientation Sensitivity","n":"1600","mean":0.852,"lo":0.704,"hi":0.952},
{"row":"grasp: pd=2; density=2","metric":"Orientation Sensitivity","n":"3200","mean":0.86,"lo":0.717,"hi":0.974},
{"row":"grasp: pd=2; density=2","metric":"Orientation Sensitivity","n":"6400","mean":0.868,"lo":0.722,"hi":0.979},
{"row":"grasp: pd=2; density=2","metric":"Orientation Sensitivity","n":"12800","mean":0.876,"lo":0.722,"hi":0.979},
{"row":"grasp: pd=2; density=2","metric":"Orientation Sensitivity","n":"25600","mean":0.876,"lo":0.722,"hi":0.979},
{"row":"grasp: pd=2; density=2","metric":"Orientation Sensitivity","n":"51200","mean":0.876,"lo":0.722,"hi":0.979},
{"row":"grasp: pd=2; density=2","metric":"Orientation Sensitivity","n":"102400","mean":0.881,"lo":0.704,"hi":0.979}
]
},
"data": {"name": "d"},
"facet": {
  "row": {"field": "row", "type": "nominal",
    "sort": ["pc: alpha=0.01; density=1","pc: alpha=0.01; density=1.5","pc: alpha=0.01; density=2","grasp: pd=2; density=1","grasp: pd=2; density=1.5","grasp: pd=2; density=2"],
    "header": {"title": null, "labelOrient": "right", "labelAngle": 90, "labelFontSize": 16, "labelFont": "Open Sans", "labelColor": "#2a3f5f", "labelPadding": -7.5, "labelAlign": "center", "labelBaseline": "middle"}},
  "column": {"field": "metric", "type": "nominal",
    "sort": ["Adjacency Precision","Adjacency Sensitivity","Orientation Precision","Orientation Sensitivity"],
    "header": {"title": null, "labelOrient": "top", "labelFontSize": 16, "labelFont": "Open Sans", "labelColor": "#2a3f5f", "labelPadding": 1}}
},
"spacing": {"row": 62, "column": 53},
"bounds": "flush",
"resolve": {"axis": {"x": "independent"}},
"spec": {
  "width": 217,
  "height": 153,
  "encoding": {
    "x": {"field": "n", "type": "ordinal",
      "sort": ["50","100","200","400","800","1600","3200","6400","12800","25600","51200","102400"],
      "scale": {"type": "point", "padding": 0.88},
      "axis": {"title": null, "labelAngle": 90, "labelAlign": "left", "labelBaseline": "middle", "grid": true, "labelPadding": 7, "labelFontSize": 11.5}}
  },
  "layer": [
    {"mark": {"type": "area", "color": "#ADD8E6", "opacity": 1, "clip": true},
     "encoding": {
       "y": {"field": "lo", "type": "quantitative", "scale": {"domain": [0, 1.2], "nice": false, "zero": false},
             "axis": {"title": null, "values": [0, 0.2, 0.4, 0.6, 0.8, 1], "tickCount": 20, "format": "~g", "grid": true, "labelOverlap": false, "labelPadding": 2.5}},
       "y2": {"field": "hi"}}},
    {"mark": {"type": "line", "color": "#000080", "strokeWidth": 2},
     "encoding": {"y": {"field": "mean", "type": "quantitative"}}},
    {"mark": {"type": "point", "filled": true, "color": "#000080", "size": 45, "opacity": 1},
     "encoding": {"y": {"field": "mean", "type": "quantitative"}}}
  ]
},
"config": {
  "view": {"fill": "#E5ECF6", "stroke": null},
  "font": "Open Sans",
  "axis": {"domain": false, "ticks": false, "gridColor": "#ffffff", "gridWidth": 1, "gridOpacity": 1, "labelColor": "#2a3f5f", "labelFontSize": 13, "labelFont": "Open Sans", "labelOverlap": false}
}
}
